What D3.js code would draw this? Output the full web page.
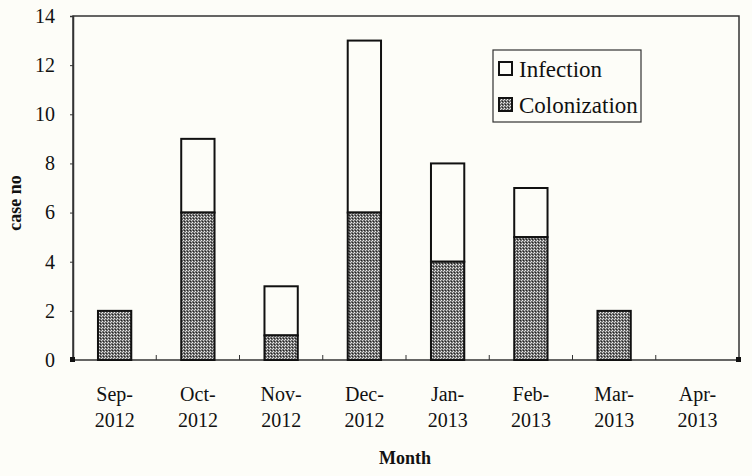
<!DOCTYPE html>
<html>
<head>
<meta charset="utf-8">
<script src="https://cdn.jsdelivr.net/npm/d3@7"></script>
<style>
  body { margin: 0; background: #fdfdf8; }
  svg { display: block; }
  text { font-family: "Liberation Serif", "DejaVu Serif", serif; fill: #111; }
</style>
</head>
<body>
<div id="chart"></div>
<script>
var months = ["Sep-|2012", "Oct-|2012", "Nov-|2012", "Dec-|2012", "Jan-|2013", "Feb-|2013", "Mar-|2013", "Apr-|2013"];
var colonization = [2, 6, 1, 6, 4, 5, 2, 0];
var infection = [0, 3, 2, 7, 4, 2, 0, 0];
var yTicks = [0, 2, 4, 6, 8, 10, 12, 14];

var width = 752, height = 476;
var margin = {"left": 73, "right": 13, "top": 16, "bottom": 116};

var svg = d3.select("#chart").append("svg")
  .attr("width", width).attr("height", height);

svg.append("rect").attr("width", width).attr("height", height).attr("fill", "#fdfdf8");

// dithered gray fill for colonization
var defs = svg.append("defs");
var pat = defs.append("pattern").attr("id", "dots")
  .attr("patternUnits", "userSpaceOnUse").attr("width", 3).attr("height", 3);
pat.append("rect").attr("width", 3).attr("height", 3).attr("fill", "#727272");
pat.append("rect").attr("x", 0).attr("y", 0).attr("width", 1).attr("height", 1).attr("fill", "#eeeeee");
pat.append("rect").attr("x", 2).attr("y", 1).attr("width", 1).attr("height", 1).attr("fill", "#d8d8d8");
pat.append("rect").attr("x", 1).attr("y", 2).attr("width", 1).attr("height", 1).attr("fill", "#222");

var x = d3.scaleBand()
  .domain(months)
  .range([margin.left, width - margin.right])
  .paddingInner(0.6).paddingOuter(0.3);

var xEdge = d3.scaleLinear().domain([0, months.length]).range([margin.left, width - margin.right]);

var y = d3.scaleLinear()
  .domain([0, 14])
  .range([height - margin.bottom, margin.top]);

// frame
svg.append("rect")
  .attr("x", margin.left).attr("y", margin.top)
  .attr("width", width - margin.left - margin.right)
  .attr("height", height - margin.top - margin.bottom)
  .attr("fill", "none").attr("stroke", "#333").attr("stroke-width", 1.5);

// y axis
var yAxis = d3.axisLeft(y).tickValues(yTicks).tickSize(3).tickPadding(15);
var gy = svg.append("g").attr("transform", "translate(" + margin.left + ",0)").call(yAxis);
gy.select(".domain").attr("stroke", "#333").attr("stroke-width", 1.5);
gy.selectAll(".tick line").attr("stroke", "#333");
gy.selectAll("text").style("font-size", "20px").attr("fill", "#111");

// x category boundary ticks (inward)
svg.append("g").selectAll("line")
  .data(d3.range(1, months.length))
  .enter().append("line")
  .attr("x1", function(d) { return xEdge(d); })
  .attr("x2", function(d) { return xEdge(d); })
  .attr("y1", y(0)).attr("y2", y(0) - 5)
  .attr("stroke", "#333").attr("stroke-width", 1);

// corner markers
svg.append("g").selectAll("rect")
  .data([0, months.length])
  .enter().append("rect")
  .attr("x", function(d) { return xEdge(d) - 3; })
  .attr("y", y(0) - 3)
  .attr("width", 5).attr("height", 5)
  .attr("fill", "#111");

// bars
var bars = svg.append("g");
months.forEach(function(m, i) {
  var c = colonization[i], inf = infection[i];
  if (inf > 0) {
    bars.append("rect")
      .attr("x", x(m)).attr("width", x.bandwidth())
      .attr("y", y(c + inf)).attr("height", y(c) - y(c + inf))
      .attr("fill", "#fdfdf8").attr("stroke", "#111").attr("stroke-width", 2);
  }
  if (c > 0) {
    bars.append("rect")
      .attr("x", x(m)).attr("width", x.bandwidth())
      .attr("y", y(c)).attr("height", y(0) - y(c))
      .attr("fill", "url(#dots)").attr("stroke", "#111").attr("stroke-width", 2);
  }
});

// x labels
var xl = svg.append("g").selectAll("text")
  .data(months).enter().append("text")
  .attr("text-anchor", "middle")
  .style("font-size", "20px");
xl.append("tspan")
  .attr("x", function(d) { return x(d) + x.bandwidth() / 2; })
  .attr("y", 401)
  .text(function(d) { return d.split("|")[0]; });
xl.append("tspan")
  .attr("x", function(d) { return x(d) + x.bandwidth() / 2; })
  .attr("y", 427)
  .text(function(d) { return d.split("|")[1]; });

// axis titles
svg.append("text")
  .attr("x", 405).attr("y", 464)
  .attr("text-anchor", "middle")
  .style("font-size", "18px").style("font-weight", "bold")
  .text("Month");

svg.append("text")
  .attr("transform", "translate(21,203) rotate(-90)")
  .attr("text-anchor", "middle")
  .style("font-size", "18px").style("font-weight", "bold")
  .text("case no");

// legend
var lg = svg.append("g");
lg.append("rect")
  .attr("x", 493).attr("y", 50).attr("width", 148).attr("height", 72)
  .attr("fill", "#fdfdf8").attr("stroke", "#333").attr("stroke-width", 1.2);
var legendItems = [
  {name: "Infection", fill: "#fdfdf8", yy: 68},
  {name: "Colonization", fill: "url(#dots)", yy: 104}
];
legendItems.forEach(function(d) {
  lg.append("rect")
    .attr("x", 499).attr("y", d.yy - 6).attr("width", 13).attr("height", 13)
    .attr("fill", d.fill).attr("stroke", "#111").attr("stroke-width", 2);
  lg.append("text")
    .attr("x", 519).attr("y", d.yy + 9)
    .style("font-size", "23px")
    .text(d.name);
});
</script>
</body>
</html>
